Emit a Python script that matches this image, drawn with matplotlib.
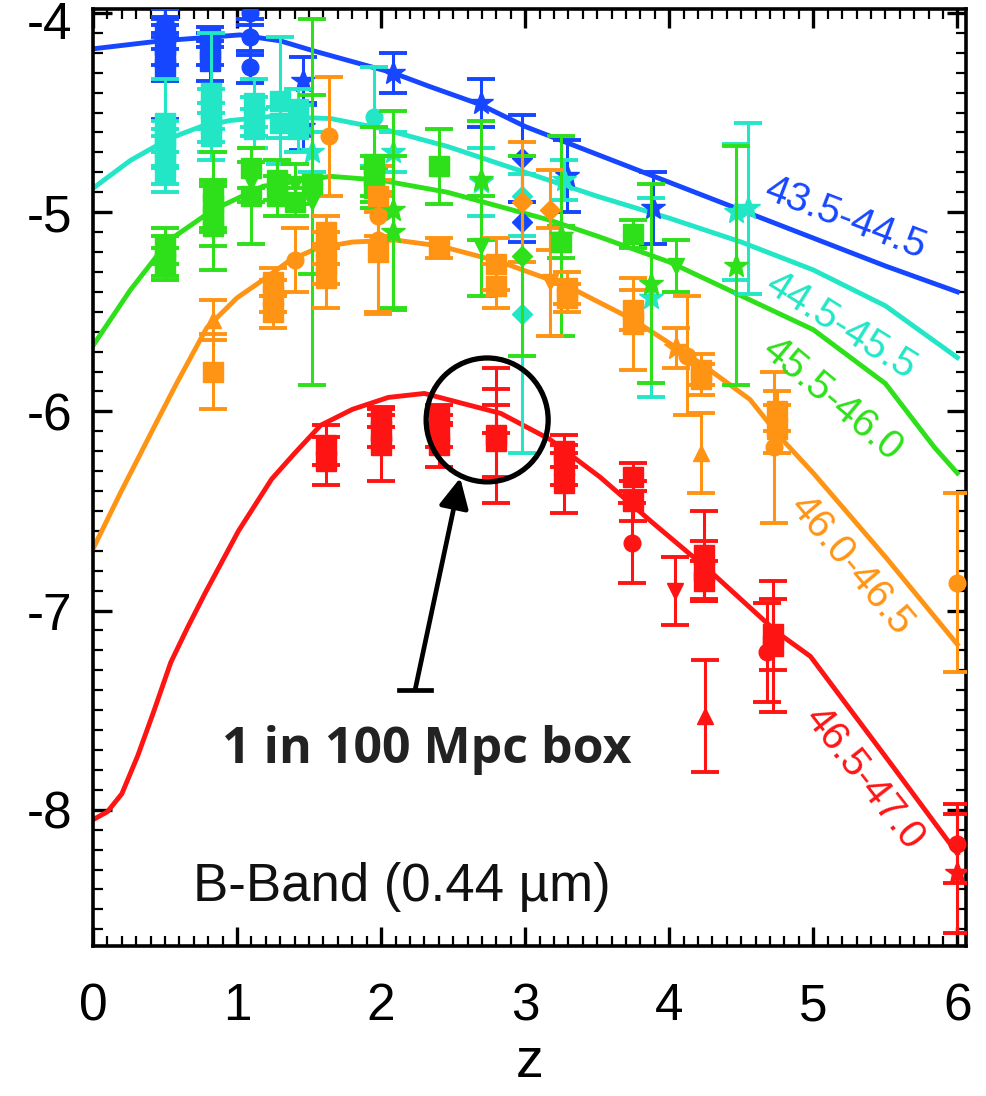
import matplotlib
matplotlib.use('Agg')
import matplotlib.pyplot as plt
from matplotlib.patches import Ellipse
from matplotlib.ticker import MultipleLocator, FixedLocator
from matplotlib.transforms import ScaledTranslation
import numpy as np

plt.rcParams['font.family'] = ['Liberation Sans', 'DejaVu Sans']
plt.rcParams['axes.unicode_minus'] = False

# ---------------- model curves ----------------
blue_curve_z = [0.0, 0.47, 1.02, 1.30, 1.53, 2.08, 2.34, 2.69, 3.0, 3.5, 4.0, 4.5, 5.0, 5.5, 6.0]
blue_curve = [-4.18, -4.14, -4.11, -4.14, -4.19, -4.30, -4.37, -4.46, -4.57, -4.71, -4.85, -4.99, -5.13, -5.27, -5.40]

cyan_curve_z = [0.0, 0.26, 0.53, 0.75, 0.95, 1.23, 1.65, 2.0, 2.46, 3.0, 3.5, 4.0, 4.5, 5.0, 5.5, 6.0]
cyan_curve = [-4.88, -4.74, -4.63, -4.57, -4.54, -4.52, -4.53, -4.58, -4.67, -4.80, -4.92, -5.03, -5.15, -5.29, -5.47, -5.73]

green_curve_z = [0.0, 0.26, 0.53, 0.83, 1.18, 1.65, 2.0, 2.46, 3.17, 3.5, 4.0, 4.5, 5.0, 5.5, 5.84, 6.0]
green_curve = [-5.67, -5.39, -5.14, -4.99, -4.87, -4.82, -4.84, -4.90, -5.04, -5.12, -5.25, -5.42, -5.59, -5.86, -6.18, -6.31]

orange_curve_z = [0.0, 0.19, 0.43, 0.58, 0.79, 1.0, 1.18, 1.37, 1.56, 1.8, 2.1, 2.41, 2.83, 3.29,
                  3.75, 4.22, 4.56, 4.77, 5.0, 5.5, 6.0]
orange_curve = [-6.69, -6.41, -6.07, -5.86, -5.58, -5.43, -5.34, -5.24, -5.18, -5.15, -5.14, -5.17, -5.25, -5.37,
                -5.54, -5.76, -5.94, -6.13, -6.31, -6.73, -7.17]

red_curve_z = [0.0, 0.1, 0.2, 0.31, 0.42, 0.54, 0.66, 0.78, 1.01, 1.24, 1.4, 1.58, 1.8, 2.05, 2.3, 2.83, 3.17,
               3.52, 3.87, 4.28, 4.75, 4.98, 5.56, 6.0]
red_curve = [-8.05, -8.01, -7.92, -7.73, -7.51, -7.26, -7.08, -6.91, -6.60, -6.34, -6.21, -6.07, -5.99, -5.93, -5.91,
             -6.01, -6.14, -6.33, -6.55, -6.80, -7.11, -7.23, -7.79, -8.22]

# ---------------- data points ----------------
blue_z = [0.50, 0.50, 0.50, 0.50, 0.50, 0.81, 0.81, 0.81, 1.09, 1.09, 1.09, 1.46, 1.46, 2.08, 2.69, 2.98, 2.98, 3.29, 3.89]
blue_val = [-4.05, -4.10, -4.16, -4.22, -4.28, -4.12, -4.18, -4.24, -4.00, -4.12, -4.27, -4.34, -4.57, -4.30, -4.45,
            -4.73, -5.05, -4.82, -4.98]
blue_err = [0.07, 0.08, 0.10, 0.12, 0.25, 0.05, 0.08, 0.10, 0.06, 0.09, 0.08, 0.12, 0.12, 0.10, 0.12, 0.22, 0.10, 0.18, 0.18]
blue_mk = ['o', 's', 's', 's', 's', 's', 's', 's', 'o', 'o', 'o', '*', '*', '*', '*', 'D', 'D', '*', '*']

cyan_z = [0.50, 0.50, 0.50, 0.50, 0.50, 0.82, 0.82, 0.82, 0.82, 1.12, 1.12, 1.12, 1.30, 1.30, 1.42, 1.42, 1.52,
          1.95, 2.08, 2.69, 2.98, 2.98, 3.27, 3.87, 4.46, 4.55]
cyan_val = [-4.55, -4.62, -4.68, -4.74, -4.80, -4.40, -4.48, -4.55, -4.62, -4.45, -4.52, -4.58, -4.44, -4.55, -4.48,
            -4.58, -4.70, -4.52, -4.70, -4.85, -4.92, -5.51, -4.84, -5.43, -5.00, -4.98]
cyan_err = [0.22, 0.08, 0.10, 0.12, 0.10, 0.30, 0.10, 0.10, 0.12, 0.12, 0.10, 0.10, 0.32, 0.08, 0.10, 0.12, 0.10,
            0.25, 0.10, 0.17, 0.20, 0.70, 0.10, 0.50, 0.34, 0.43]
cyan_mk = ['s', 's', 's', 's', 's', 's', 's', 's', 's', 's', 's', 's', 's', 's', 's', 's', '*', 'o', '*', '*',
           'D', 'D', '*', '*', '*', '*']

green_z = [0.50, 0.50, 0.50, 0.83, 0.83, 0.83, 0.83, 1.10, 1.10, 1.10, 1.28, 1.28, 1.40, 1.40, 1.52, 1.52, 1.95,
           1.95, 1.95, 2.08, 2.08, 2.40, 2.69, 2.69, 2.98, 3.25, 3.25, 3.75, 3.87, 4.05, 4.46]
green_val = [-5.17, -5.22, -5.26, -4.90, -4.96, -5.02, -5.07, -4.78, -4.85, -4.92, -4.84, -4.92, -4.86, -4.95, -4.95,
             -4.86, -4.76, -4.82, -4.88, -4.99, -5.10, -4.77, -4.84, -5.17, -5.22, -5.12, -5.15, -5.11, -5.36,
             -5.27, -5.27]
green_err = [0.09, 0.10, 0.08, 0.20, 0.12, 0.15, 0.22, 0.10, 0.10, 0.24, 0.10, 0.10, 0.10, 0.07, 0.92, 0.45, 0.19,
             0.10, 0.10, 0.50, 0.38, 0.19, 0.30, 0.25, 0.50, 0.50, 0.08, 0.07, 0.50, 0.13, 0.60]
green_mk = ['s', 's', 's', 's', 's', 's', 's', 's', 'v', 's', 's', 's', 'v', 's', 'v', 's', 's', 's', 's', '*',
            '*', 's', '*', 'v', 'D', '*', 's', 's', '*', 'v', '*']

orange_z = [0.83, 0.83, 1.25, 1.25, 1.25, 1.40, 1.64, 1.62, 1.62, 1.62, 1.62, 1.98, 1.98, 1.98, 1.98, 2.40, 2.80,
            2.80, 2.98, 3.17, 3.17, 3.29, 3.29, 3.75, 3.75, 4.05, 4.12, 4.22, 4.22, 4.22, 4.75, 4.75, 4.73, 6.00]
orange_val = [-5.54, -5.80, -5.35, -5.42, -5.50, -5.24, -4.62, -5.10, -5.18, -5.26, -5.33, -4.92, -5.02, -5.14,
              -5.20, -5.18, -5.26, -5.37, -4.95, -4.99, -5.35, -5.38, -5.43, -5.49, -5.56, -5.68, -5.72, -5.79,
              -5.84, -6.21, -6.00, -6.09, -6.18, -6.86]
orange_err = [0.10, 0.19, 0.07, 0.08, 0.08, 0.16, 0.30, 0.08, 0.08, 0.10, 0.15, 0.08, 0.10, 0.37, 0.30, 0.05, 0.13,
              0.11, 0.30, 0.20, 0.27, 0.08, 0.07, 0.10, 0.23, 0.10, 0.30, 0.08, 0.08, 0.20, 0.10, 0.12, 0.38, 0.45]
orange_mk = ['^', 's', 's', 's', 's', 'o', 'o', 's', 's', 's', 's', 's', 'o', 'o', 's', 's', 's', 's', 'D', 'D',
             'v', 's', 's', 's', 's', '*', 'o', 's', 's', '^', 's', 's', 'o', 'o']

red_z = [1.62, 1.62, 2.00, 2.00, 2.00, 2.40, 2.40, 2.40, 2.80, 2.80, 2.80, 3.27, 3.27, 3.27, 3.75, 3.75, 3.74,
         4.04, 4.24, 4.24, 4.24, 4.25, 4.72, 4.72, 4.68, 6.00, 6.00]
red_val = [-6.17, -6.25, -6.03, -6.10, -6.17, -6.02, -6.10, -6.17, -6.12, -6.00, -6.15, -6.20, -6.27, -6.36, -6.33,
           -6.45, -6.66, -6.90, -6.72, -6.80, -6.85, -7.53, -7.12, -7.18, -7.21, -8.17, -8.32]
red_err = [0.10, 0.12, 0.05, 0.08, 0.18, 0.05, 0.08, 0.11, 0.34, 0.11, 0.18, 0.08, 0.10, 0.15, 0.07, 0.10, 0.20,
           0.17, 0.22, 0.15, 0.10, 0.28, 0.18, 0.33, 0.25, 0.20, 0.30]
red_mk = ['s', 's', 's', 's', 's', 's', 's', 's', 's', '', 's', 's', 's', 's', 's', 's', 'o', 'v', 's', 's', 's',
          '^', 's', 's', 'o', 'o', '*']

band_labels = ['43.5-44.5', '44.5-45.5', '45.5-46.0', '46.0-46.5', '46.5-47.0']
x_ticks = [0, 1, 2, 3, 4, 5, 6]
y_ticks = [-4, -5, -6, -7, -8]

colors = ['#1646ff', '#22e6c6', '#2ee01a', '#ff9414', '#ff1414']

bands = [
    (blue_curve_z, blue_curve, blue_z, blue_val, blue_err, blue_mk),
    (cyan_curve_z, cyan_curve, cyan_z, cyan_val, cyan_err, cyan_mk),
    (green_curve_z, green_curve, green_z, green_val, green_err, green_mk),
    (orange_curve_z, orange_curve, orange_z, orange_val, orange_err, orange_mk),
    (red_curve_z, red_curve, red_z, red_val, red_err, red_mk),
]

# label placement (data coords) and rotation
label_pos = [(5.22, -5.03, -21), (5.19, -5.57, -32), (5.13, -5.94, -40), (5.26, -6.77, -50), (5.35, -7.84, -52)]

msize = {'s': 14, 'o': 12, '*': 18, '^': 12, 'v': 12, 'D': 10, '': 0}

fig = plt.figure(figsize=(9.87, 10.96), dpi=100)
ax = fig.add_axes([93 / 987, 1 - 946 / 1096, (966 - 93) / 987, (946 - 9) / 1096])

for i, (cz, cv, pz, pv, pe, pm) in enumerate(bands):
    col = colors[i]
    ax.plot(cz, cv, color=col, lw=3.5, zorder=2 + i * 0.1, solid_joinstyle='round')
for i, (cz, cv, pz, pv, pe, pm) in enumerate(bands):
    col = colors[i]
    for z, v, e, m in zip(pz, pv, pe, pm):
        ax.errorbar(z, v, yerr=e, fmt=(m if m else 'none'), color=col, ms=msize[m], mec=col, mfc=col,
                    elinewidth=2.2, capsize=10, capthick=2.8, zorder=3 + i * 0.1)
    lx, ly, rot = label_pos[i]
    ax.text(lx, ly, band_labels[i], color=col, fontsize=29, rotation=rot, rotation_mode='anchor',
            ha='center', va='center', zorder=6)

ax.set_xlim(0, 6.06)
ax.set_ylim(-8.684, -3.98)
ax.xaxis.set_major_locator(FixedLocator(x_ticks))
ax.yaxis.set_major_locator(FixedLocator(y_ticks))
ax.set_xticklabels([str(t) for t in x_ticks])
ax.set_yticklabels([str(t) for t in y_ticks])
ax.xaxis.set_minor_locator(MultipleLocator(0.1))
ax.yaxis.set_minor_locator(MultipleLocator(0.1))
ax.tick_params(which='major', direction='in', length=14, width=2.4, top=True, right=True, labelsize=37)
ax.tick_params(which='minor', direction='in', length=7, width=1.6, top=True, right=True)
ax.tick_params(axis='x', which='major', pad=26)
ax.tick_params(axis='y', which='major', pad=15)
for sp in ax.spines.values():
    sp.set_linewidth(2.6)
ax.set_xlabel('z', fontsize=40, labelpad=4)

# nudge the topmost y label slightly down so it stays inside the canvas
top_tick = ax.yaxis.get_major_ticks()[0]
top_tick.label1.set_transform(top_tick.label1.get_transform()
                              + ScaledTranslation(0, -5 / 72, fig.dpi_scale_trans))

ax.text(0.694, -8.39, 'B-Band (0.44 µm)', fontsize=38, ha='left', va='center', color='#111111')

# annotation: circle, arrow, label
ax.add_patch(Ellipse((2.736, -6.043), 0.847, 0.622, fill=False, lw=3.8, ec='black', zorder=7))
tail = (2.236, -7.398)
tip = (2.549, -6.334)
ax.annotate('', xy=tip, xytext=tail,
            arrowprops=dict(arrowstyle='-|>,head_length=0.9,head_width=0.45', lw=3.4, color='black',
                            shrinkA=0, shrinkB=0, mutation_scale=20), zorder=7)
ax.plot([tail[0] - 0.11, tail[0] + 0.11], [tail[1], tail[1]], color='black', lw=3.4, zorder=7)
ax.text(2.32, -7.70, '1 in 100 Mpc box', fontsize=36, fontweight='bold', family=['Open Sans', 'DejaVu Sans'],
        ha='center', va='center', color='#222222', zorder=7)

fig.savefig('out.png', dpi=100)
